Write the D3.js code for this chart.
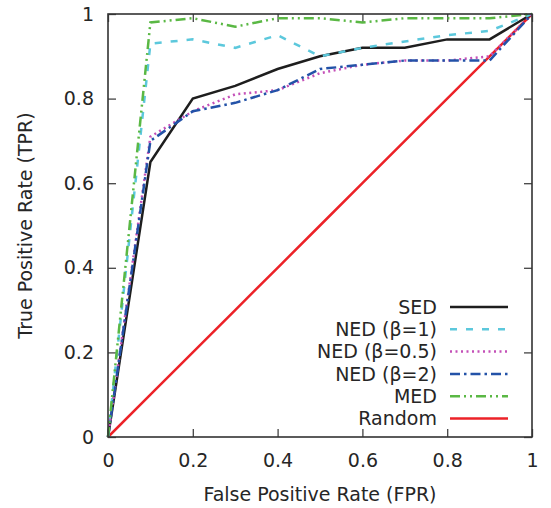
<!DOCTYPE html>
<html>
<head>
<meta charset="utf-8">
<script src="https://cdn.jsdelivr.net/npm/d3@7"></script>
<style>
  body { margin: 0; background: #fff; }
  text { font-family: "DejaVu Sans", sans-serif; fill: #262626; }
</style>
</head>
<body>
<script>
var fpr = [0, 0.1, 0.2, 0.3, 0.4, 0.5, 0.6, 0.7, 0.8, 0.9, 1];
var sed    = [0, 0.65, 0.80, 0.83, 0.87, 0.90, 0.92, 0.92, 0.94, 0.94, 1];
var ned1   = [0, 0.93, 0.94, 0.92, 0.95, 0.90, 0.92, 0.935, 0.95, 0.96, 1];
var ned05  = [0, 0.71, 0.77, 0.81, 0.82, 0.86, 0.88, 0.89, 0.89, 0.90, 1];
var ned2   = [0, 0.70, 0.77, 0.79, 0.82, 0.87, 0.88, 0.89, 0.89, 0.89, 1];
var med    = [0, 0.98, 0.99, 0.97, 0.99, 0.99, 0.98, 0.99, 0.99, 0.99, 1];
var random = [0, 0.1, 0.2, 0.3, 0.4, 0.5, 0.6, 0.7, 0.8, 0.9, 1];
var ticks = [0, 0.2, 0.4, 0.6, 0.8, 1];

var series = [
  { name: "SED",          values: sed,    color: "#1e1e1e", dash: null },
  { name: "NED (β=1)",    values: ned1,   color: "#5cc8dc", dash: "7,9" },
  { name: "NED (β=0.5)",  values: ned05,  color: "#c450b8", dash: "2,3.5" },
  { name: "NED (β=2)",    values: ned2,   color: "#2352a8", dash: "10,4,2.5,4" },
  { name: "MED",          values: med,    color: "#5ab844", dash: "10,4,2,4,2,4" },
  { name: "Random",       values: random, color: "#ec2228", dash: null }
];

var fontSize = "19px",
    lineW = 2.5;

var margin = {top: 14, right: 19, bottom: 71, left: 108},
    width = 551 - margin.left - margin.right,
    height = 508 - margin.top - margin.bottom;

var svg = d3.select("body").append("svg")
    .attr("width", 551)
    .attr("height", 508)
  .append("g")
    .attr("transform", "translate(" + margin.left + "," + margin.top + ")");

var x = d3.scaleLinear().domain([0, 1]).range([0, width]);
var y = d3.scaleLinear().domain([0, 1]).range([height, 0]);

// ticks, inward, mirrored
function tickAxis(axis, tx) {
  var g = svg.append("g").attr("transform", tx).call(axis);
  g.select(".domain").remove();
  g.selectAll("line").attr("stroke", "#444").attr("stroke-width", 1.3);
  g.selectAll("text").style("font-size", fontSize).attr("fill", "#262626")
    .style("font-family", "DejaVu Sans");
  return g;
}
tickAxis(d3.axisBottom(x).tickValues(ticks).tickSize(-8).tickPadding(17)
    .tickFormat(d3.format("~g")), "translate(0," + height + ")");
tickAxis(d3.axisLeft(y).tickValues(ticks).tickSize(-8).tickPadding(14)
    .tickFormat(d3.format("~g")), "translate(0,0)");
tickAxis(d3.axisTop(x).tickValues(ticks).tickSize(-8).tickFormat(""), "translate(0,0)");
tickAxis(d3.axisRight(y).tickValues(ticks).tickSize(-8).tickFormat(""), "translate(" + width + ",0)");

var line = d3.line()
    .x(function(d, i) { return x(fpr[i]); })
    .y(function(d) { return y(d); });

// red underneath, the rest in legend order
var drawOrder = [5, 0, 1, 2, 3, 4];
drawOrder.forEach(function(k) {
  var s = series[k];
  svg.append("path")
      .datum(s.values)
      .attr("fill", "none")
      .attr("stroke", s.color)
      .attr("stroke-width", lineW)
      .attr("stroke-dasharray", s.dash)
      .attr("d", line);
});

// frame
svg.append("rect")
    .attr("width", width)
    .attr("height", height)
    .attr("fill", "none")
    .attr("stroke", "#333")
    .attr("stroke-width", 1.6);

// legend
var legend = svg.append("g").attr("transform", "translate(329,293)");
series.forEach(function(s, i) {
  var row = legend.append("g").attr("transform", "translate(0," + (i * 22.3) + ")");
  row.append("text")
      .attr("x", 0)
      .attr("dy", "0.35em")
      .attr("text-anchor", "end")
      .style("font-size", fontSize)
      .text(s.name);
  row.append("line")
      .attr("x1", 13).attr("x2", 71)
      .attr("stroke", s.color)
      .attr("stroke-width", lineW)
      .attr("stroke-dasharray", s.dash);
});

// axis titles
svg.append("text")
    .attr("x", width / 2)
    .attr("y", height + 64)
    .attr("text-anchor", "middle")
    .style("font-size", fontSize)
    .text("False Positive Rate (FPR)");

svg.append("text")
    .attr("transform", "rotate(-90)")
    .attr("x", -height / 2)
    .attr("y", -76)
    .attr("text-anchor", "middle")
    .style("font-size", fontSize)
    .text("True Positive Rate (TPR)");
</script>
</body>
</html>
